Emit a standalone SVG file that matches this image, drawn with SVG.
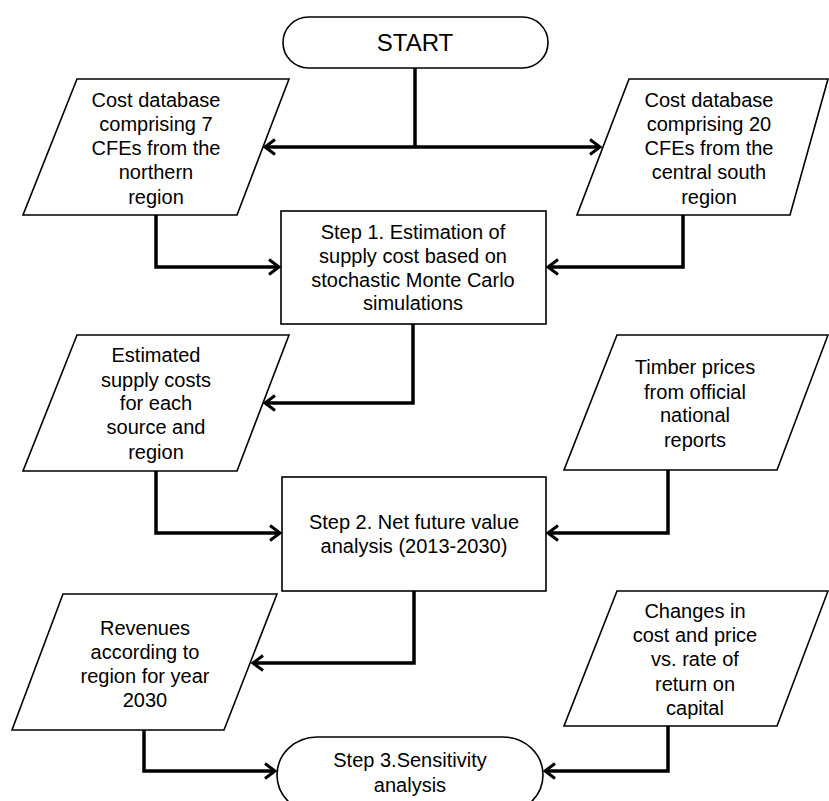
<svg xmlns="http://www.w3.org/2000/svg" width="829" height="801" viewBox="0 0 829 801">
<style>
.shape{fill:#fff;stroke:#000;stroke-width:1.6}
.t{font-family:"Liberation Sans",Arial,sans-serif;font-size:20px;fill:#000;text-anchor:middle}
.big{font-size:24px}
.c{fill:none;stroke:#000;stroke-width:3.5}
</style>
<defs>
<marker id="arr" markerUnits="userSpaceOnUse" markerWidth="16" markerHeight="20" viewBox="0 0 16 20" refX="13" refY="10" orient="auto">
<path d="M3,2.5 L13,10 L3,17.5" fill="none" stroke="#000" stroke-width="3"/>
</marker>
</defs>
<rect width="829" height="801" fill="#fff"/>
<g id="start">
<rect class="shape" x="283" y="17" width="265" height="51" rx="25.5" ry="25.5"/>
<text class="t big" x="415" y="51">START</text>
</g>
<g id="db-north">
<polygon class="shape" points="77,79 289,79 237,215 23,215"/>
<text class="t" x="156" y="107">Cost database</text>
<text class="t" x="156" y="131">comprising 7</text>
<text class="t" x="156" y="155">CFEs from the</text>
<text class="t" x="156" y="179">northern</text>
<text class="t" x="156" y="204">region</text>
</g>
<g id="db-south">
<polygon class="shape" points="629,79 828,79 790,215 577,215"/>
<text class="t" x="709" y="107">Cost database</text>
<text class="t" x="709" y="131">comprising 20</text>
<text class="t" x="709" y="155">CFEs from the</text>
<text class="t" x="709" y="179">central south</text>
<text class="t" x="709" y="204">region</text>
</g>
<g id="step1">
<rect class="shape" x="281" y="211" width="265" height="113"/>
<text class="t" x="413" y="239">Step 1. Estimation of</text>
<text class="t" x="413" y="263">supply cost based on</text>
<text class="t" x="413" y="287">stochastic Monte Carlo</text>
<text class="t" x="413" y="310">simulations</text>
</g>
<g id="estimated">
<polygon class="shape" points="77,335 289,335 237,471 23,471"/>
<text class="t" x="156" y="362">Estimated</text>
<text class="t" x="156" y="387">supply costs</text>
<text class="t" x="156" y="410">for each</text>
<text class="t" x="156" y="434">source and</text>
<text class="t" x="156" y="459">region</text>
</g>
<g id="timber">
<polygon class="shape" points="617,335 828,335 777,470 564,470"/>
<text class="t" x="695" y="374">Timber prices</text>
<text class="t" x="695" y="399">from official</text>
<text class="t" x="695" y="422">national</text>
<text class="t" x="695" y="447">reports</text>
</g>
<g id="step2">
<rect class="shape" x="282" y="477" width="264" height="114"/>
<text class="t" x="414" y="529">Step 2. Net future value</text>
<text class="t" x="414" y="553">analysis (2013-2030)</text>
</g>
<g id="revenues">
<polygon class="shape" points="63,594 277,594 224,730 12,730"/>
<text class="t" x="145" y="635">Revenues</text>
<text class="t" x="145" y="659">according to</text>
<text class="t" x="145" y="683">region for year</text>
<text class="t" x="145" y="707">2030</text>
</g>
<g id="changes">
<polygon class="shape" points="617,591 828,591 777,726 564,726"/>
<text class="t" x="695" y="618">Changes in</text>
<text class="t" x="695" y="642">cost and price</text>
<text class="t" x="695" y="666">vs. rate of</text>
<text class="t" x="695" y="691">return on</text>
<text class="t" x="695" y="715">capital</text>
</g>
<g id="step3">
<rect class="shape" x="277" y="737" width="266" height="76" rx="40" ry="38"/>
<text class="t" x="410" y="767">Step 3.Sensitivity</text>
<text class="t" x="410" y="792">analysis</text>
</g>
<g id="connectors">
<path class="c" d="M415,68 V147"/>
<path class="c" d="M415,147 H265" marker-end="url(#arr)"/>
<path class="c" d="M415,147 H600" marker-end="url(#arr)"/>
<path class="c" d="M156,215 V267 H279" marker-end="url(#arr)"/>
<path class="c" d="M683,215 V267 H548" marker-end="url(#arr)"/>
<path class="c" d="M413,324 V403 H265" marker-end="url(#arr)"/>
<path class="c" d="M156,471 V533 H280" marker-end="url(#arr)"/>
<path class="c" d="M668,470 V533 H548" marker-end="url(#arr)"/>
<path class="c" d="M414,591 V663 H253" marker-end="url(#arr)"/>
<path class="c" d="M144,730 V771 H275" marker-end="url(#arr)"/>
<path class="c" d="M668,726 V771 H545" marker-end="url(#arr)"/>
</g>
</svg>
